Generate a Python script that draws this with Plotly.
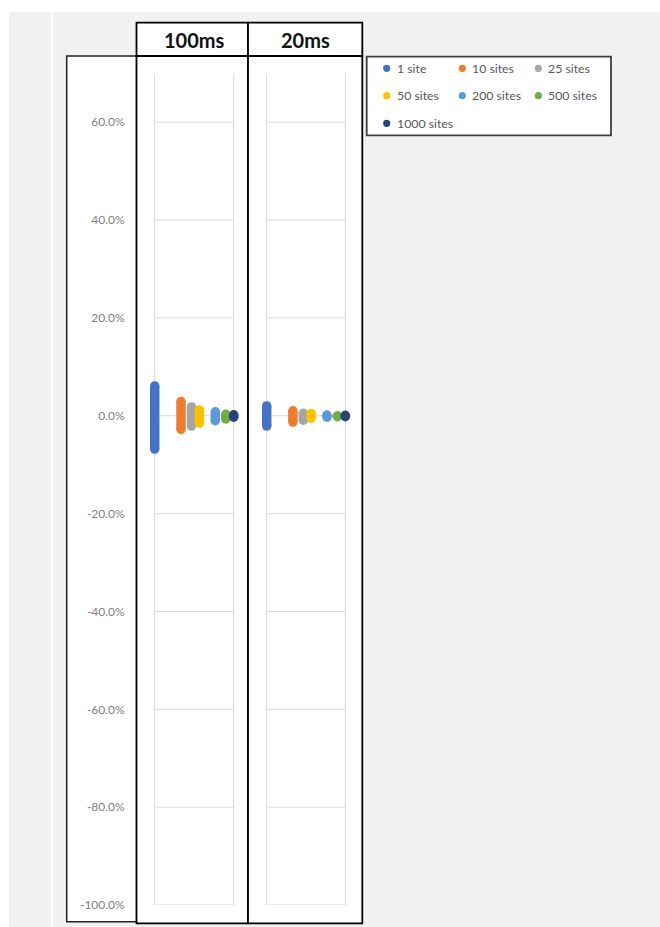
import plotly.graph_objects as go

W, H = 660, 927

# ---------------- data ----------------
panels = ["100ms", "20ms"]
series = ["1 site", "10 sites", "25 sites", "50 sites", "200 sites", "500 sites", "1000 sites"]
sites = [1, 10, 25, 50, 200, 500, 1000]
colors = ["#4472C4", "#ED7D31", "#A5A5A5", "#FFC000", "#5B9BD5", "#70AD47", "#264478"]

high_100ms = [6.1, 2.9, 1.8, 1.2, 0.8, 0.3, 0.2]
low_100ms = [-6.8, -2.8, -2.1, -1.5, -1.0, -0.65, -0.3]
high_20ms = [2.0, 1.0, 0.5, 0.45, 0.15, 0.0, 0.08]
low_20ms = [-2.1, -1.3, -0.9, -0.5, -0.3, -0.2, -0.18]

tick_vals = [60, 40, 20, 0, -20, -40, -60, -80, -100]
tick_text = ["60.0%", "40.0%", "20.0%", "0.0%", "-20.0%", "-40.0%", "-60.0%", "-80.0%", "-100.0%"]


def px(x):
    return x / W


def py(y):
    return 1 - y / H


FONT = "Lato"
fig = go.Figure()

# plot areas in screen pixels (log10 0..3 maps onto inner box)
inner = [(154.7, 233.7), (266.7, 345.3)]
PAD = 12  # extra room so the round caps are not clipped
ytop, ybot = 73.3, 905

highs = [high_100ms, high_20ms]
lows = [low_100ms, low_20ms]
for p in range(2):
    xa = "x" if p == 0 else "x2"
    ya = "y" if p == 0 else "y2"
    for i, name in enumerate(series):
        fig.add_trace(go.Scatter(
            x=[sites[i], sites[i]], y=[lows[p][i], highs[p][i]],
            mode="lines+markers", name=name, showlegend=False, cliponaxis=False,
            line=dict(color=colors[i], width=9.5),
            marker=dict(color=colors[i], size=9.5, line=dict(width=0)),
            xaxis=xa, yaxis=ya, hoverinfo="skip",
        ))

shapes = []
# background
shapes.append(dict(type="rect", xref="paper", yref="paper", x0=px(9), x1=px(660), y0=py(927), y1=py(12),
                   fillcolor="#F1F1F1", line=dict(width=0), layer="below"))
shapes.append(dict(type="rect", xref="paper", yref="paper", x0=px(51.3), x1=px(53), y0=py(927), y1=py(12),
                   fillcolor="#FFFFFF", line=dict(width=0), layer="below"))


def box(x0, y0, x1, y1, color="#000000", width=1.8, fill="#FFFFFF"):
    shapes.append(dict(type="rect", xref="paper", yref="paper", x0=px(x0), x1=px(x1), y0=py(y1), y1=py(y0),
                       fillcolor=fill, line=dict(color=color, width=width), layer="below"))


# y-axis label box
box(66.7, 56, 136.7, 921.7, color="#222222", width=1.5)
# header cells
box(136.5, 22.7, 248, 56)
box(248, 22.7, 362.3, 56)
# panel cells
box(136.5, 56, 248, 923.3)
box(248, 56, 362.3, 923.3)
# legend box
box(366.7, 56.7, 611, 135.3, color="#3F3F3F", width=1.8)

# plot-area borders and gridlines (inner area only)
GRID = "#D9D9D9"
for p, (x0, x1) in enumerate(inner):
    yref = "y" if p == 0 else "y2"
    for xx in (x0, x1):
        shapes.append(dict(type="line", xref="paper", yref="paper", x0=px(xx), x1=px(xx),
                           y0=py(ybot), y1=py(ytop), line=dict(color=GRID, width=1), layer="below"))
    for v in tick_vals:
        shapes.append(dict(type="line", xref="paper", yref=yref, x0=px(x0), x1=px(x1),
                           y0=v, y1=v, line=dict(color=GRID, width=1), layer="below"))

annotations = []
# headers
for label, cx in zip(panels, [194, 305.5]):
    annotations.append(dict(text="<b>" + label + "</b>", x=px(cx), y=py(40), xref="paper", yref="paper",
                            showarrow=False, xanchor="center", yanchor="middle",
                            font=dict(family=FONT, size=20, color="#111111")))

# manual legend
leg_cols = [386.7, 462.3, 538.3]
leg_rows = [68.3, 95.7, 123.3]
for i, name in enumerate(series):
    r, c = divmod(i, 3)
    cx, cy = leg_cols[c], leg_rows[r]
    shapes.append(dict(type="circle", xref="paper", yref="paper",
                       x0=px(cx - 3.6), x1=px(cx + 3.6), y0=py(cy + 3.6), y1=py(cy - 3.6),
                       fillcolor=colors[i], line=dict(width=0)))
    annotations.append(dict(text=name, x=px(cx + 8), y=py(cy), xref="paper", yref="paper",
                            showarrow=False, xanchor="left", yanchor="middle",
                            font=dict(family=FONT, size=12.3, color="#595959")))

ydom = [py(ybot), py(ytop)]
axis_common_y = dict(range=[-100, 70], domain=ydom, tickvals=tick_vals, ticktext=tick_text,
                     showgrid=False, zeroline=False, showline=False, fixedrange=True, automargin=False)


def xaxis_for(x0, x1, anchor):
    per_dec = (x1 - x0) / 3.0
    ext = PAD / per_dec
    return dict(type="log", range=[-ext, 3 + ext], domain=[px(x0 - PAD), px(x1 + PAD)], anchor=anchor,
                showgrid=False, zeroline=False, showline=False, showticklabels=False, ticks="",
                fixedrange=True, automargin=False)


fig.update_layout(
    width=W, height=H,
    margin=dict(l=0, r=0, t=0, b=0, pad=0),
    paper_bgcolor="#FFFFFF",
    plot_bgcolor="rgba(0,0,0,0)",
    showlegend=False,
    xaxis=xaxis_for(*inner[0], "y"),
    xaxis2=xaxis_for(*inner[1], "y2"),
    yaxis=dict(anchor="x", showticklabels=True, ticks="", ticklabelstandoff=17,
               tickfont=dict(family=FONT, size=12, color="#7F7F7F"), **axis_common_y),
    yaxis2=dict(anchor="x2", showticklabels=False, ticks="", **axis_common_y),
    shapes=shapes,
    annotations=annotations,
)

# remove the default 8px page margin so the figure fills the window exactly
fig.write_html("out.html", config={"displayModeBar": False},
               post_script="document.body.style.margin='0';document.body.style.overflow='hidden';")
